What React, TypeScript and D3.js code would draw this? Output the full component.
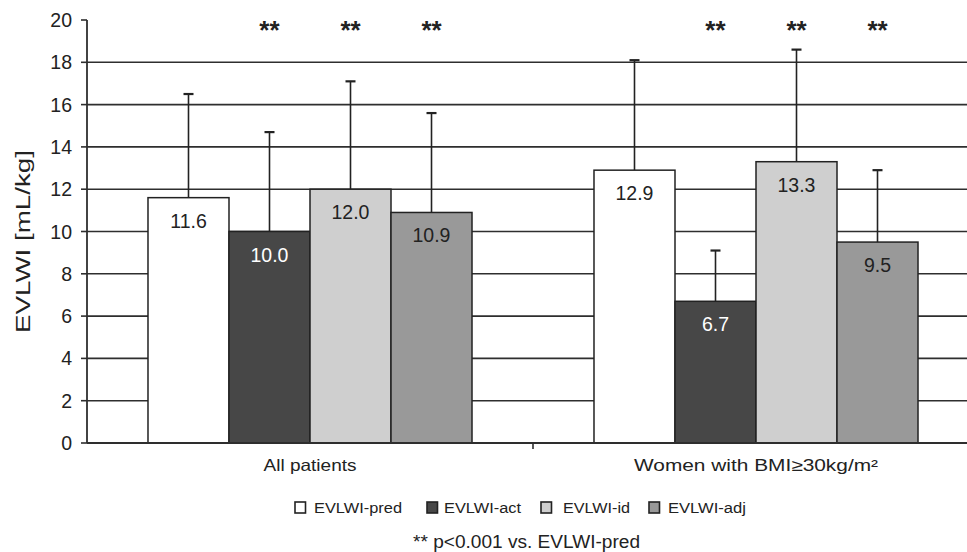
import React from "react";
import * as d3 from "d3";

const groups = ["All patients", "Women with BMI≥30kg/m²"];
const series = ["EVLWI-pred", "EVLWI-act", "EVLWI-id", "EVLWI-adj"];
const means = [
  [11.6, 10.0, 12.0, 10.9],
  [12.9, 6.7, 13.3, 9.5],
];
const upperErr = [
  [16.5, 14.7, 17.1, 15.6],
  [18.1, 9.1, 18.6, 12.9],
];
const significant = [
  [false, true, true, true],
  [false, true, true, true],
];
const yTicks = [0, 2, 4, 6, 8, 10, 12, 14, 16, 18, 20];
const footnote = "** p<0.001 vs. EVLWI-pred";
const yTitle = "EVLWI [mL/kg]";

const colors = ["#ffffff", "#474747", "#cfcfcf", "#999999"];
const labelColors = ["#222", "#fff", "#222", "#222"];
const groupLabelWidths = [93, 244];
const legendSquareX = [295, 427, 541, 649];
const legendTextX = [314, 444, 563, 668];
const legendTextW = [88, 77, 67, 78];

const W = 967;
const H = 552;
const font = "'Liberation Sans', Arial, sans-serif";
const ink = "#222";
const lineC = "#2e2e2e";

export default function App() {
  const y = d3.scaleLinear().domain([0, 20]).range([443, 20]);
  const x0 = d3.scaleBand<string>().domain(groups).range([87, 979]).padding(0);
  const x1 = d3
    .scaleBand<string>()
    .domain(series)
    .range([0, x0.bandwidth()])
    .paddingInner(0)
    .paddingOuter(0.753);
  const bw = x1.bandwidth();

  return (
    <svg
      width={W}
      height={H}
      style={{ position: "absolute", left: 0, top: 0, background: "#fff" }}
      fontFamily={font}
    >
      <rect x={0} y={0} width={W} height={H} fill="#fff" />
      {/* gridlines */}
      {yTicks
        .filter((t) => t !== 0 && t !== 20)
        .map((t) => (
          <line key={"g" + t} x1={87} x2={W} y1={y(t)} y2={y(t)} stroke={lineC} strokeWidth={1.6} />
        ))}
      {/* y ticks */}
      {yTicks.map((t) => (
        <g key={"t" + t}>
          <line x1={81} x2={87} y1={y(t)} y2={y(t)} stroke={lineC} strokeWidth={1.6} />
          <text x={72} y={y(t) + 7} textAnchor="end" fontSize={19.5} fill={ink}>
            {t}
          </text>
        </g>
      ))}
      {/* bars */}
      {groups.map((g, gi) =>
        series.map((s, si) => {
          const bx = (x0(g) as number) + (x1(s) as number);
          const cx = bx + bw / 2;
          const v = means[gi][si];
          const e = upperErr[gi][si];
          return (
            <g key={g + s}>
              <line x1={cx} x2={cx} y1={y(v)} y2={y(e)} stroke={ink} strokeWidth={1.6} />
              <line x1={cx - 5} x2={cx + 5} y1={y(e)} y2={y(e)} stroke={ink} strokeWidth={2.2} />
              <rect x={bx} y={y(v)} width={bw} height={y(0) - y(v)} fill={colors[si]} stroke={ink} strokeWidth={1.5} />
              <text x={cx} y={y(v) + 30} textAnchor="middle" fontSize={19.5} fill={labelColors[si]}>
                {v.toFixed(1)}
              </text>
              {significant[gi][si] && (
                <text x={cx} y={39} textAnchor="middle" fontSize={26} fontWeight="bold" fill={ink}>
                  **
                </text>
              )}
            </g>
          );
        })
      )}
      {/* axes */}
      <line x1={87} x2={87} y1={y(20)} y2={y(0)} stroke={lineC} strokeWidth={1.8} />
      <line x1={87} x2={W} y1={y(0)} y2={y(0)} stroke={lineC} strokeWidth={1.8} />
      {groups.map((g, gi) => (
        <g key={"c" + g}>
          {gi > 0 && (
            <line x1={x0(g) as number} x2={x0(g) as number} y1={y(0)} y2={y(0) + 6} stroke={lineC} strokeWidth={1.6} />
          )}
          <text
            x={(x0(g) as number) + x0.bandwidth() / 2}
            y={471}
            textAnchor="middle"
            fontSize={16.5}
            fill={ink}
            textLength={groupLabelWidths[gi]}
            lengthAdjust="spacingAndGlyphs"
          >
            {g}
          </text>
        </g>
      ))}
      <text
        transform={`translate(30,241.5) rotate(-90)`}
        textAnchor="middle"
        fontSize={20}
        fill={ink}
        textLength={183}
        lengthAdjust="spacingAndGlyphs"
      >
        {yTitle}
      </text>
      {/* legend */}
      {series.map((s, si) => (
        <g key={"l" + s}>
          <rect x={legendSquareX[si]} y={502} width={10.5} height={11} fill={colors[si]} stroke={ink} strokeWidth={1.6} />
          <text
            x={legendTextX[si]}
            y={513}
            fontSize={15.5}
            fill={ink}
            textLength={legendTextW[si]}
            lengthAdjust="spacingAndGlyphs"
          >
            {s}
          </text>
        </g>
      ))}
      <text
        x={413}
        y={548}
        fontSize={17.5}
        fill={ink}
        textLength={227}
        lengthAdjust="spacingAndGlyphs"
      >
        {footnote}
      </text>
    </svg>
  );
}
